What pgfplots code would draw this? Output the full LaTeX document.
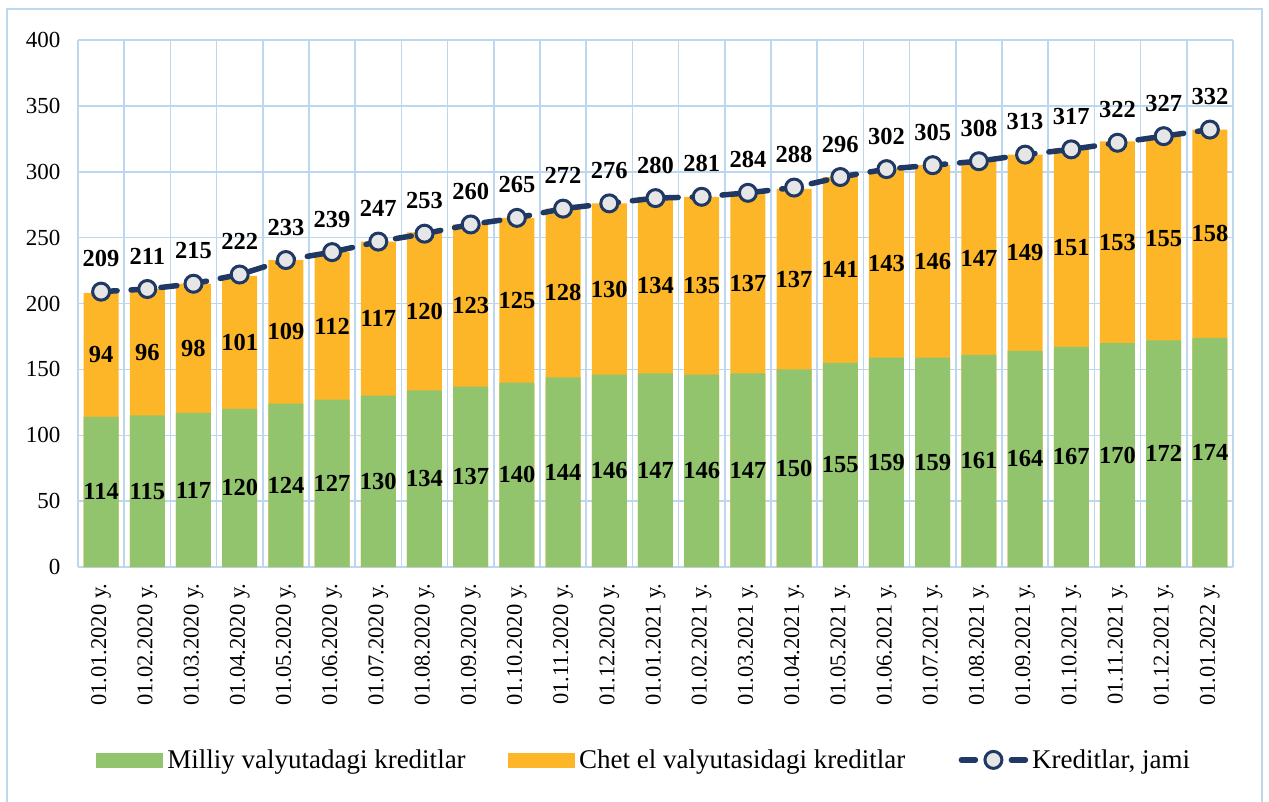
\documentclass[border=0pt]{standalone}
\usepackage{fontspec}
\setmainfont{Liberation Serif}
\usepackage{pgfplots}
\usepackage{pgfplotstable}
\pgfplotsset{compat=1.18}
\definecolor{cgreen}{HTML}{92C46E}
\definecolor{corange}{HTML}{FDB627}
\definecolor{cnavy}{HTML}{1F3864}
\definecolor{cgrid}{HTML}{BDD7EE}
\definecolor{cmark}{HTML}{E6E6E6}
\pgfplotstableread{
x g o t
0 114 94 209
1 115 96 211
2 117 98 215
3 120 101 222
4 124 109 233
5 127 112 239
6 130 117 247
7 134 120 253
8 137 123 260
9 140 125 265
10 144 128 272
11 146 130 276
12 147 134 280
13 146 135 281
14 147 137 284
15 150 137 288
16 155 141 296
17 159 143 302
18 159 146 305
19 161 147 308
20 164 149 313
21 167 151 317
22 170 153 322
23 172 155 327
24 174 158 332
}\data
\begin{document}
\begin{tikzpicture}
\useasboundingbox (0pt,0pt) rectangle (1269pt,-802pt);
\draw[cgrid, line width=1.5pt] (7pt,-9pt) rectangle (1262pt,-850pt);
\begin{axis}[
  at={(78pt,-567pt)}, anchor=south west,
  scale only axis, width=1155pt, height=527pt,
  xmin=-0.5, xmax=24.5, ymin=0, ymax=400,
  ytick={0,50,...,400},
  xtick=data,
  xticklabels={01.01.2020 y., 01.02.2020 y., 01.03.2020 y., 01.04.2020 y., 01.05.2020 y., 01.06.2020 y., 01.07.2020 y., 01.08.2020 y., 01.09.2020 y., 01.10.2020 y., 01.11.2020 y., 01.12.2020 y., 01.01.2021 y., 01.02.2021 y., 01.03.2021 y., 01.04.2021 y., 01.05.2021 y., 01.06.2021 y., 01.07.2021 y., 01.08.2021 y., 01.09.2021 y., 01.10.2021 y., 01.11.2021 y., 01.12.2021 y., 01.01.2022 y.},
  minor xtick={-0.5,0.5,...,24.5},
  xminorgrids=true, ymajorgrids=true, xmajorgrids=false,
  major grid style={cgrid, line width=1.5pt},
  minor grid style={cgrid, line width=1.5pt},
  major tick length=0pt, minor tick length=0pt,
  axis line style={draw=none},
  /pgf/number format/assume math mode=true,
  yticklabel style={font=\fontsize{23}{27}\selectfont, xshift=-14pt},
  xticklabel style={font=\fontsize{22.5}{26}\selectfont, rotate=90, anchor=east, xshift=-13pt},
  legend columns=3,
  legend style={at={(0.49,-0.366)}, anchor=center, draw=none, fill=none,
    font=\fontsize{27}{30}\selectfont,
    /tikz/every even column/.append style={column sep=40pt}},
]
\addplot[ybar, bar width=35pt, bar shift=0pt, fill=corange, draw=none, forget plot]
  table[x=x, y expr=\thisrow{g}+\thisrow{o}]{\data};
\addplot[ybar, bar width=35pt, bar shift=0pt, fill=cgreen, draw=none, forget plot]
  table[x=x, y=g]{\data};
\addplot[draw=none, mark=none, forget plot, nodes near coords, point meta=\thisrow{g},
  every node near coord/.append style={anchor=center, text=black, font=\fontsize{24.5}{28}\selectfont\bfseries}]
  table[x=x, y expr=\thisrow{g}/2]{\data};
\addplot[draw=none, mark=none, forget plot, nodes near coords, point meta=\thisrow{o},
  every node near coord/.append style={anchor=center, text=black, font=\fontsize{24.5}{28}\selectfont\bfseries}]
  table[x=x, y expr=\thisrow{g}+\thisrow{o}/2]{\data};
\addplot[cnavy, line width=5.5pt, dash pattern=on 16pt off 14pt, line cap=round, forget plot,
  mark=*, mark size=8.5pt, mark options={solid, fill=cmark, draw=cnavy, line width=3pt},
  nodes near coords, point meta=\thisrow{t},
  every node near coord/.append style={anchor=center, yshift=33pt, text=black, font=\fontsize{24.5}{28}\selectfont\bfseries}]
  table[x=x, y=t]{\data};
\addlegendimage{legend image code/.code={\fill[cgreen] (0pt,-7pt) rectangle (66pt,7pt);}}
\addlegendentry{\hspace{3pt}Milliy valyutadagi kreditlar}
\addlegendimage{legend image code/.code={\fill[corange] (0pt,-7pt) rectangle (66pt,7pt);}}
\addlegendentry{\hspace{3pt}Chet el valyutasidagi kreditlar}
\addlegendimage{legend image code/.code={
  \path (0pt,0pt);
  \draw[cnavy, line width=5.5pt, line cap=round] (14pt,0pt) -- (28pt,0pt);
  \draw[cnavy, line width=5.5pt, line cap=round] (64pt,0pt) -- (78pt,0pt);
  \draw[cnavy, fill=cmark, line width=3pt] (46pt,0pt) circle (8.5pt);}}
\addlegendentry{\hspace{2pt}Kreditlar, jami}
\end{axis}
\end{tikzpicture}
\end{document}
